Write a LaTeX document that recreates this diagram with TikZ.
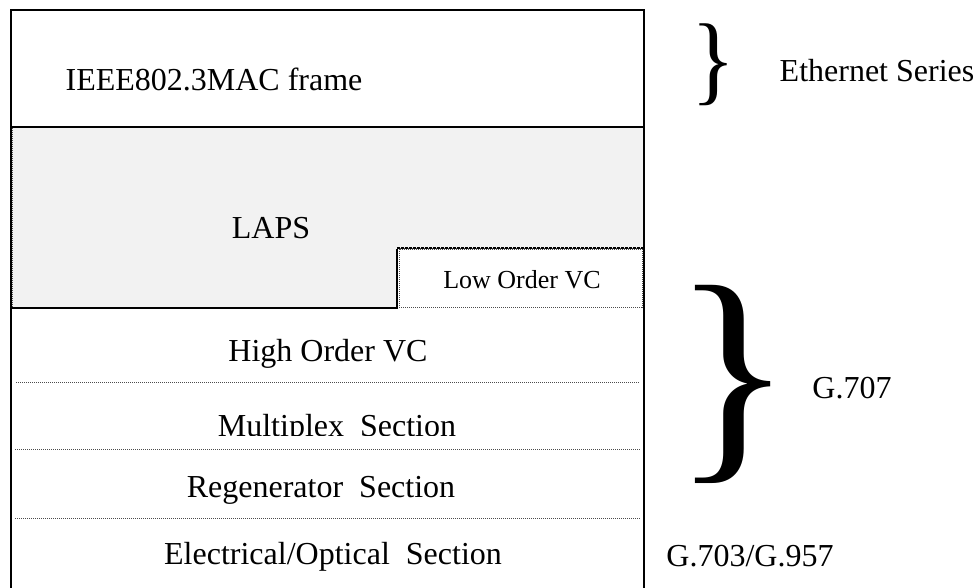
\documentclass[tikz,border=0pt]{standalone}
\usepackage{fontspec}
\setmainfont{Liberation Serif}
\usepackage{graphicx}
\definecolor{lapsgray}{HTML}{F2F2F2}
\begin{document}
\begin{tikzpicture}[x=1pt,y=-1pt,
  boxline/.style={line width=2.2pt, black},
  dotline/.style={line width=1pt, dash pattern=on 1pt off 1pt, black!70},
  lbl/.style={font=\fontsize{32}{38}\selectfont, inner sep=0pt, anchor=base},
  smalllbl/.style={font=\fontsize{26}{31}\selectfont, inner sep=0pt, anchor=base},
  bracenode/.style={inner sep=0pt, anchor=north}]
\useasboundingbox (0,0) rectangle (979,587);
% LAPS shaded region
\fill[lapsgray] (11,127) -- (644,127) -- (644,248) -- (397,248) -- (397,308) -- (11,308) -- cycle;
\draw[dotline] (12,127) -- (643,127) -- (643,248) -- (397,248) -- (397,307) -- (12,307) -- cycle;
% Low Order VC box
\draw[dotline] (399,249) rectangle (642,307);
\draw[line width=2pt, dash pattern=on 3pt off 1pt] (397,248) -- (644,248);
% solid step under LAPS
\draw[boxline] (397,249) -- (397,308) -- (11,308);
% outer frame (open at the bottom)
\draw[boxline] (11,590) -- (11,10) -- (644,10) -- (644,590);
\draw[boxline] (11,127) -- (644,127);
% dotted section separators
\draw[dotline] (16,382) -- (640,382);
\draw[dotline] (15,449) -- (640,449);
\draw[dotline] (15,518) -- (640,518);
% labels
\node[lbl] (mac) at (214,90) {IEEE802.3MAC frame};
\node[lbl] (laps) at (271,238) {LAPS};
\node[smalllbl] (lovc) at (522,288) {Low Order VC};
\node[lbl] (hovc) at (328,361) {High Order VC};
\begin{scope}
  \clip (11,383) rectangle (644,435);
  \node[lbl] (ms) at (337,436) {Multiplex\ \ Section};
\end{scope}
\node[lbl] (rs) at (321,497) {Regenerator\ \ Section};
\node[lbl] (eos) at (333,564) {Electrical/Optical\ \ Section};
% braces and standards
\node[bracenode] (br1) at (714,24) {\resizebox*{44pt}{82pt}{\}}};
\node[bracenode] (br2) at (733,285) {\resizebox*{121pt}{198pt}{\}}};
\node[lbl] (eth) at (877,81) {Ethernet Series};
\node[lbl] (g707) at (852,398) {G.707};
\node[lbl] (g703) at (750,566) {G.703/G.957};
\end{tikzpicture}
\end{document}
